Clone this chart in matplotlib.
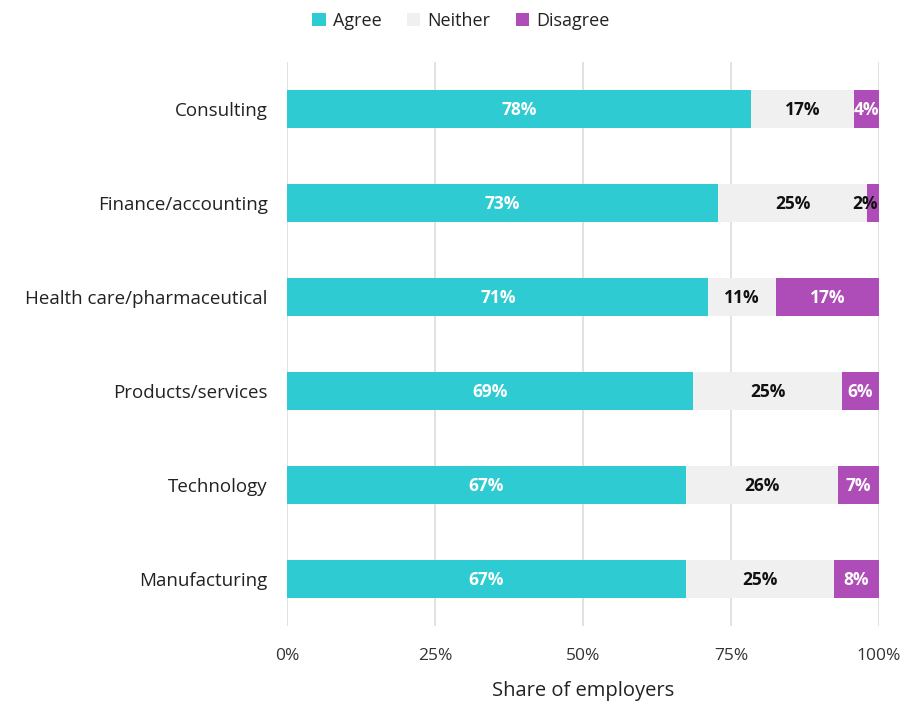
import matplotlib.pyplot as plt
from matplotlib.patches import Patch

plt.rcParams['font.family'] = ['Open Sans', 'DejaVu Sans']

industries = ["Consulting", "Finance/accounting", "Health care/pharmaceutical",
              "Products/services", "Technology", "Manufacturing"]
agree = [78.4, 72.8, 71.2, 68.6, 67.4, 67.4]
neither = [17.4, 25.2, 11.4, 25.2, 25.7, 25.0]
disagree = [4.2, 2.0, 17.4, 6.2, 6.9, 7.6]
series_names = ["Agree", "Neither", "Disagree"]
x_ticks = [0, 25, 50, 75, 100]
x_ticklabels = ["0%", "25%", "50%", "75%", "100%"]

colors = ["#2ECBD2", "#F0F0F0", "#AE4DB8"]
text_colors = ["white", "#111111", "white"]

fig = plt.figure(figsize=(9.04, 7.03), dpi=100)
ax = fig.add_axes([0.3175, 0.1095, 0.6548, 0.8023])

y = list(range(len(industries)))
left = [0.0] * len(industries)
for vals, col, tcol in zip([agree, neither, disagree], colors, text_colors):
    bars = ax.barh(y, vals, left=left, height=0.4, color=col, zorder=2)
    for b, v in zip(bars, vals):
        cy = b.get_y() + b.get_height() / 2 + 0.01
        if v < 3:
            # very thin segment: dark label tucked against the bar's right end
            ax.text(b.get_x() + b.get_width() - 0.2, cy, f"{round(v)}%",
                    ha="right", va="center", color="#111111", fontsize=12.5,
                    fontweight="bold", zorder=3)
        else:
            ax.text(b.get_x() + b.get_width() / 2, cy, f"{round(v)}%",
                    ha="center", va="center", color=tcol, fontsize=12.5,
                    fontweight="bold", zorder=3)
    left = [l + v for l, v in zip(left, vals)]

ax.set_xlim(0, 100)
ax.set_ylim(len(industries) - 0.5, -0.5)
ax.set_xticks(x_ticks)
ax.set_xticklabels(x_ticklabels, fontsize=12.5, color="#333333")
ax.set_yticks(y)
ax.set_yticklabels(industries, fontsize=13.5, color="#222222")
ax.tick_params(axis="both", length=0)
ax.tick_params(axis="x", pad=16)
ax.tick_params(axis="y", pad=14)
ax.grid(axis="x", color="#DDDDDD", linewidth=1.2, zorder=0)
for s in ax.spines.values():
    s.set_visible(False)
ax.set_xlabel("Share of employers", fontsize=14.5, color="#222222", labelpad=12)

handles = [Patch(facecolor=c, edgecolor="none") for c in colors]
fig.legend(handles, series_names, loc="center", bbox_to_anchor=(0.51, 0.97),
           ncol=3, frameon=False, fontsize=13, handlelength=0.75, handleheight=0.75,
           handletextpad=0.4, columnspacing=1.4, labelcolor="#222222")

fig.savefig("out.png", dpi=100, facecolor="white")
